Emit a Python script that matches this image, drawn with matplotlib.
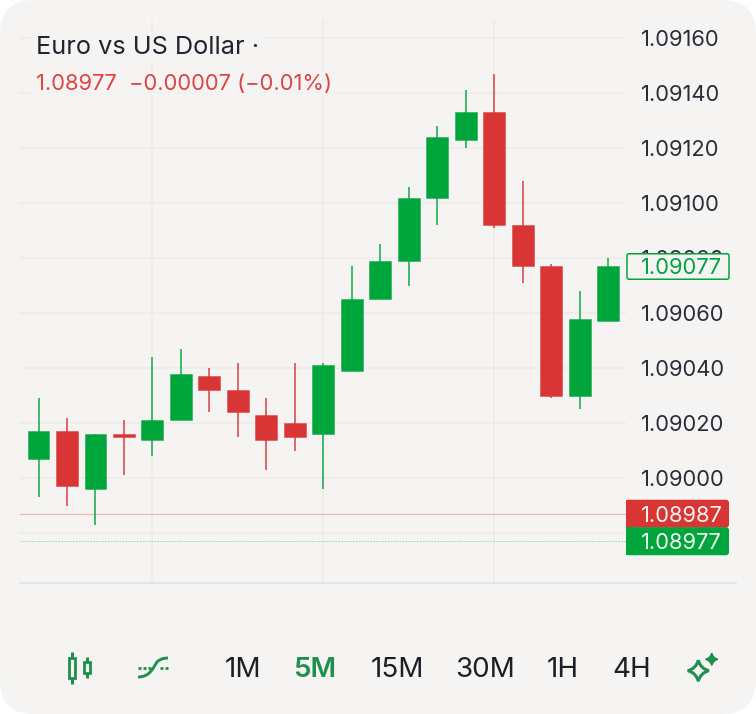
import matplotlib
matplotlib.use('Agg')
import numpy as np
import matplotlib.pyplot as plt
from matplotlib.colors import to_rgba
from matplotlib.patches import FancyBboxPatch, PathPatch, Rectangle
from matplotlib.path import Path
from matplotlib.transforms import Affine2D

plt.rcParams['font.family'] = ['Inter', 'DejaVu Sans']

opens = [1.09007, 1.09017, 1.08996, 1.09016, 1.09014, 1.09021, 1.09037, 1.09032, 1.09023, 1.09020, 1.09016,
         1.09039, 1.09065, 1.09079, 1.09102, 1.09123, 1.09133, 1.09092, 1.09077, 1.09030, 1.09057]
closes = [1.09017, 1.08997, 1.09016, 1.09015, 1.09021, 1.09038, 1.09032, 1.09024, 1.09014, 1.09015, 1.09041,
          1.09065, 1.09079, 1.09102, 1.09124, 1.09133, 1.09092, 1.09077, 1.09030, 1.09058, 1.09077]
highs = [1.09029, 1.09022, 1.09016, 1.09021, 1.09044, 1.09047, 1.09040, 1.09042, 1.09029, 1.09042, 1.09042,
         1.09077, 1.09085, 1.09106, 1.09128, 1.09141, 1.09147, 1.09108, 1.09078, 1.09068, 1.09080]
lows = [1.08993, 1.08990, 1.08983, 1.09001, 1.09008, 1.09021, 1.09024, 1.09015, 1.09003, 1.09010, 1.08996,
        1.09039, 1.09065, 1.09070, 1.09092, 1.09120, 1.09091, 1.09071, 1.09029, 1.09025, 1.09057]

price_ticks = [1.08980, 1.09000, 1.09020, 1.09040, 1.09060, 1.09080, 1.09100, 1.09120, 1.09140, 1.09160]
price_labels = ['', '1.09000', '1.09020', '1.09040', '1.09060', '1.09080', '1.09100', '1.09120', '1.09140', '1.09160']
time_ticks = [4, 10, 16]

last_price = 1.09077
bid_price = 1.08987
ask_price = 1.08977
intervals = ['1M', '5M', '15M', '30M', '1H', '4H']
interval_x = [243, 315, 397, 485, 563, 632]

bg = '#F5F4F3'
green = '#00A63B'
red = '#D93535'
icon_green = '#1F8F4E'
dark = '#1F2430'
grid_col = '#ECEBE9'

W, H = 756, 714
fig = plt.figure(figsize=(W / 100, H / 100), dpi=100, facecolor='white')
px = Affine2D().scale(1, -1).translate(0, H)  # pixel coords, y down

panel = FancyBboxPatch((30, 30), W - 60, H - 60, boxstyle='round,pad=30,rounding_size=34',
                       fc=bg, ec='none', transform=px, zorder=-1)
fig.add_artist(panel)

ax = fig.add_axes([20 / W, 1 - 583 / H, 606 / W, 563 / H])
ax.patch.set_alpha(0)
ax.set_xlim(-0.65, 20.63)
ax.set_ylim(1.0896182, 1.0916655)

ax.set_yticks(price_ticks)
ax.set_yticklabels(price_labels)
ax.set_xticks(time_ticks)
ax.set_xticklabels([])
ax.yaxis.tick_right()
ax.tick_params(axis='both', length=0)
ax.tick_params(axis='y', pad=10.8, labelsize=15.8, labelcolor='#2A2E39')
ax.grid(True, color=grid_col, linewidth=1.1)
ax.set_axisbelow(True)
for side in ['top', 'left', 'right']:
    ax.spines[side].set_visible(False)
ax.spines['bottom'].set_color('#E0E0E6')
ax.spines['bottom'].set_linewidth(1.2)
fig.add_artist(plt.Line2D([628, 736], [583, 583], color='#E0E0E6', linewidth=1.2, transform=px))

# price lines
ax.axhline(bid_price, color=red, alpha=0.3, linewidth=0.9, zorder=1.8)
ax.axhline(ask_price, color='#8FD9A8', linewidth=0.7, linestyle=(0, (1.5, 1.5)), zorder=1.8)

# candles
x = np.arange(len(opens))
o = np.array(opens)
c = np.array(closes)
colors = [green if c[i] >= o[i] else red for i in x]
edges = [to_rgba(col, 0.45) for col in colors]
ax.vlines(x, lows, highs, colors=colors, linewidth=1.15, alpha=0.9, zorder=2)
ax.bar(x, np.abs(c - o), bottom=np.minimum(o, c), width=0.77, color=colors, edgecolor=edges, linewidth=0.7, zorder=3)

# header
t1 = ax.text(36, 48, 'Euro vs US Dollar ·', fontsize=18.2, color=dark, va='center', transform=px, zorder=5)
t1.set_bbox(dict(fc=bg, ec='none', alpha=0.75, pad=3))
t2 = ax.text(36, 84, '1.08977  \u22120.00007 (\u22120.01%)', fontsize=15.8, color='#E04343', va='center',
             transform=px, zorder=5)
t2.set_bbox(dict(fc=bg, ec='none', alpha=0.75, pad=2))


def price_px(price):
    return 478 - (price - 1.09) * 275000


# last price box
y = price_px(last_price)
fig_box = FancyBboxPatch((627, y - 12.5), 102, 25.5, boxstyle='round,pad=0,rounding_size=2',
                         fc=bg, ec=green, linewidth=1.1, transform=px, zorder=6, clip_on=False)
ax.add_patch(fig_box)
ax.text(641, y, '1.09077', fontsize=15.8, color=green, va='center_baseline', transform=px, zorder=7)

# bid / ask badges
for price, col in [(bid_price, red), (ask_price, green)]:
    y = price_px(price)
    ax.add_patch(FancyBboxPatch((626, y - 14), 103, 28, boxstyle='round,pad=0,rounding_size=3',
                                fc=col, ec='none', transform=px, zorder=6, clip_on=False))
    ax.add_patch(Rectangle((626, y - 14), 10, 28, fc=col, ec='none', transform=px, zorder=6, clip_on=False))
    ax.text(641, y, f'{price:.5f}', fontsize=15.8, color='#F4F4F2', va='center_baseline', transform=px, zorder=7)

# interval buttons
for label, lx in zip(intervals, interval_x):
    active = label == '5M'
    ax.text(lx, 670, label, fontsize=20, color=icon_green if active else '#1C1F26', ha='center', va='center',
            fontweight='semibold' if active else 'normal', transform=px, zorder=5)

# candle icon
for cx, y0, y1, b0, b1 in [(72, 652, 684, 658, 678), (87, 657, 678, 662, 673)]:
    fig.add_artist(plt.Line2D([cx, cx], [y0, b0], color=icon_green, linewidth=2.2, solid_capstyle='butt', transform=px))
    fig.add_artist(plt.Line2D([cx, cx], [b1, y1], color=icon_green, linewidth=2.2, solid_capstyle='butt', transform=px))
    fig.add_artist(Rectangle((cx - 3, b0), 6, b1 - b0, fc='none', ec=icon_green, linewidth=2, transform=px))

# line icon
curve = Path([(138, 677), (150, 677), (153, 668), (157, 662), (161, 658), (168, 658)],
             [Path.MOVETO, Path.CURVE4, Path.CURVE4, Path.CURVE4, Path.CURVE3, Path.CURVE3])
fig.add_artist(PathPatch(curve, fc='none', ec=icon_green, linewidth=2.1, transform=px))
for d0, d1 in [(138, 141), (143, 146), (148, 151), (160, 163), (165, 168)]:
    fig.add_artist(plt.Line2D([d0, d1], [668, 668], color=icon_green, linewidth=2, solid_capstyle='butt', transform=px))


# sparkle icon
def star(cx, cy, r):
    k = 0.2 * r
    pts = [(cx, cy - r), (cx + k, cy - k), (cx + r, cy), (cx + k, cy + k), (cx, cy + r),
           (cx - k, cy + k), (cx - r, cy), (cx - k, cy - k), (cx, cy - r)]
    codes = [Path.MOVETO] + [Path.CURVE3, Path.CURVE3] * 4
    return Path(pts, codes)


fig.add_artist(PathPatch(star(698.3, 670.7, 10.5), fc='none', ec=icon_green, linewidth=2.2, transform=px))
fig.add_artist(PathPatch(star(711.7, 659.3, 6), fc=icon_green, ec=icon_green, linewidth=1.2, transform=px))

fig.savefig('out.png', dpi=100)
plt.close()
